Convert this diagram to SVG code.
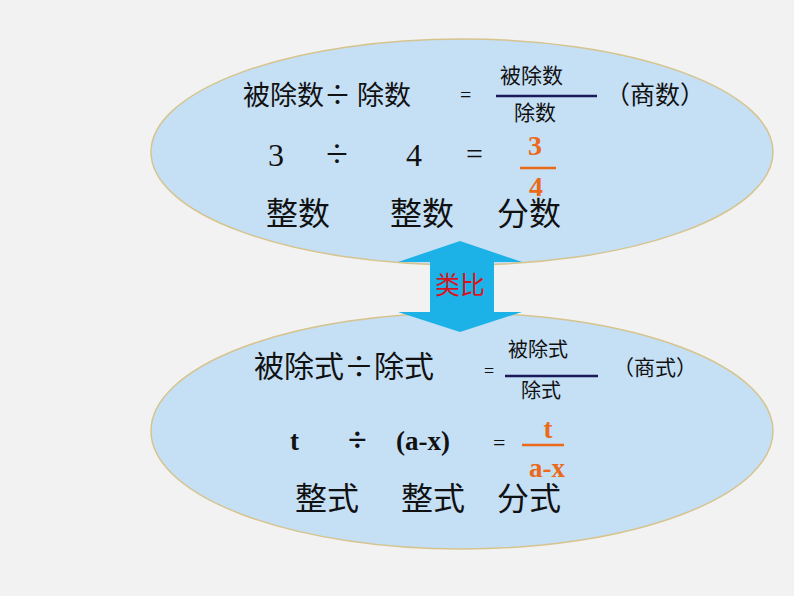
<svg xmlns="http://www.w3.org/2000/svg" width="794" height="596" viewBox="0 0 794 596">
<style>
.e{fill:#c5dff5;stroke:#d6c48e;stroke-width:1.5}
.c{font-family:"Noto Sans CJK SC","Liberation Serif",serif;fill:#111}
.s{font-family:"Liberation Serif",serif;fill:#111}
.o{font-family:"Liberation Serif",serif;fill:#ea6a1a;font-weight:bold}
</style>
<rect width="794" height="596" fill="#f2f2f2"/>
<g id="top">
<ellipse class="e" cx="462" cy="152" rx="311" ry="113"/>
<text class="c" x="243" y="105" font-size="27">被除数÷ 除数</text>
<text class="s" x="460" y="102" font-size="20">=</text>
<text class="c" x="500" y="83" font-size="21">被除数</text>
<line x1="496" y1="96" x2="597" y2="96" stroke="#1a1a5a" stroke-width="2.5"/>
<text class="c" x="514" y="120" font-size="21">除数</text>
<text class="c" x="605" y="104" font-size="25">（商数）</text>
<text class="s" x="268" y="166" font-size="32">3</text>
<text class="s" x="326" y="167" font-size="40">÷</text>
<text class="s" x="406" y="166" font-size="32">4</text>
<text class="s" x="466" y="164" font-size="30">=</text>
<text class="o" x="535" y="155" font-size="28" text-anchor="middle">3</text>
<line x1="520" y1="168" x2="556" y2="168" stroke="#ea6a1a" stroke-width="2.5"/>
<text class="o" x="536" y="196" font-size="28" text-anchor="middle">4</text>
<text class="c" x="266" y="225" font-size="32">整数</text>
<text class="c" x="390" y="225" font-size="32">整数</text>
<text class="c" x="497" y="225" font-size="32">分数</text>
</g>
<g id="bottom">
<ellipse class="e" cx="462" cy="431" rx="311" ry="118"/>
<text class="c" x="254" y="377" font-size="30">被除式÷除式</text>
<text class="s" x="484" y="377" font-size="18">=</text>
<text class="c" x="508" y="357" font-size="20">被除式</text>
<line x1="505" y1="376" x2="598" y2="376" stroke="#1a1a5a" stroke-width="2.5"/>
<text class="c" x="521" y="398" font-size="20">除式</text>
<text class="c" x="613" y="375" font-size="21">（商式）</text>
<text class="s" x="290" y="450" font-size="27" font-weight="bold">t</text>
<text class="s" x="348" y="451" font-size="34" font-weight="bold">÷</text>
<text class="s" x="396" y="450" font-size="27" font-weight="bold">(a-x)</text>
<text class="s" x="493" y="450" font-size="22">=</text>
<text class="o" x="548" y="438" font-size="27" text-anchor="middle">t</text>
<line x1="522" y1="445" x2="564" y2="445" stroke="#ea6a1a" stroke-width="2.5"/>
<text class="o" x="547" y="477" font-size="27" text-anchor="middle">a-x</text>
<text class="c" x="295" y="510" font-size="32">整式</text>
<text class="c" x="401" y="510" font-size="32">整式</text>
<text class="c" x="497" y="510" font-size="32">分式</text>
</g>
<g id="connectors">
<polygon points="460,241 522,262 494,262 494,312 522,312 460,332 398,312 430,312 430,262 398,262" fill="#1cb2e8"/>
<text x="460" y="294" font-size="25" text-anchor="middle" fill="#d8121e" font-family="Noto Sans CJK SC,sans-serif">类比</text>
</g>
</svg>
